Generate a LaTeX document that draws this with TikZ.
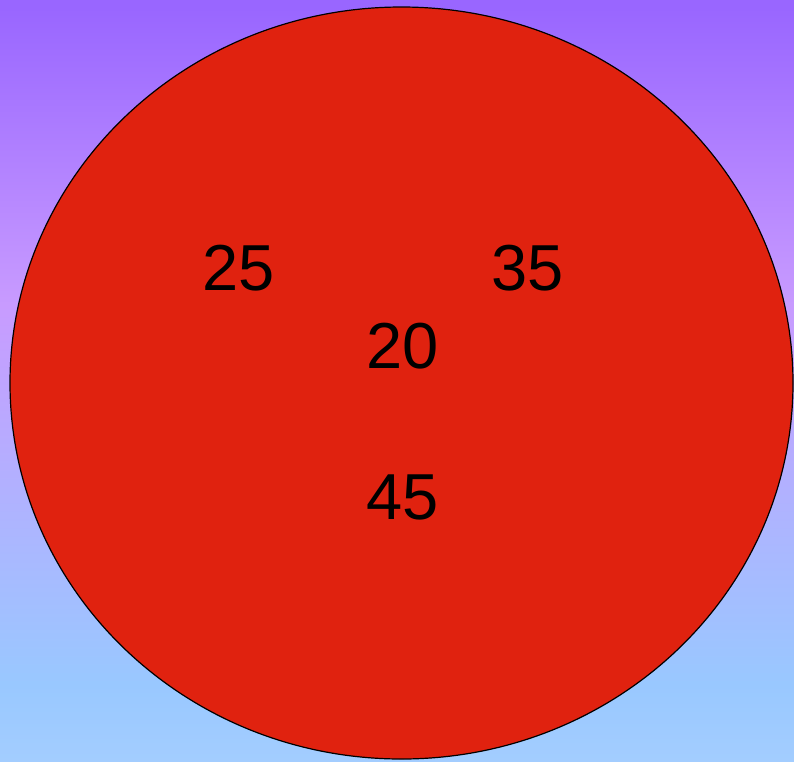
\documentclass[tikz,border=0pt]{standalone}
\usepackage{fontspec}
\setmainfont{Liberation Sans}
\definecolor{ctop}{RGB}{153,102,255}
\definecolor{cpink}{RGB}{200,155,255}
\definecolor{cblue}{RGB}{153,200,255}
\definecolor{cbot}{RGB}{163,205,255}
\definecolor{cred}{RGB}{224,34,15}
\pgfdeclareverticalshading{bgshade}{100bp}{color(0bp)=(cbot); color(25bp)=(cbot); color(30bp)=(cblue); color(55bp)=(cpink); color(74.5bp)=(ctop); color(100bp)=(ctop)}
\begin{document}
\begin{tikzpicture}[x=1pt,y=-1pt,
  num/.style={inner sep=0pt, font=\fontsize{65}{70}\selectfont, text=black}]
\useasboundingbox (0,0) rectangle (794,761);
\shade[shading=bgshade] (0,0) rectangle (794,761);
\draw[fill=cred, draw=black, line width=1.2pt] (401.5,383) ellipse [x radius=391.5, y radius=376];
\node[num] (n25) at (238.5,268.5) {25};
\node[num] (n35) at (527.5,268.5) {35};
\node[num] (n20) at (403,346.5) {20};
\node[num] (n45) at (403,497.5) {45};
\end{tikzpicture}
\end{document}
